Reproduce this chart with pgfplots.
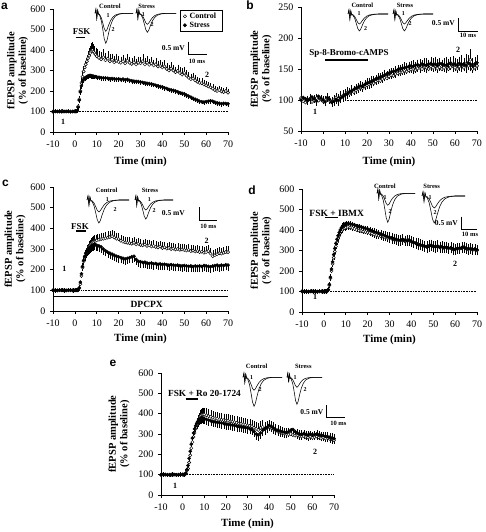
\documentclass[border=0pt]{standalone}
\usepackage{pgfplots}
\pgfplotsset{compat=1.18}
\usepackage{pgfplotstable}
\usepackage{fontspec}
\setmainfont{Liberation Serif}
\newfontfamily\panelfont{Liberation Sans}

% ---------------- data ----------------
\pgfplotstableread{
t y e
-10 100 4
-9 101 3
-8 99 3
-7 100 4
-6 102 3
-5 100 3
-4 99 3
-3 101 4
-2 100 3
-1 100 3
0 101 3
0.5 100 4
1 104 5
1.5 125 8
2 160 12
2.5 200 15
3 240 18
3.5 270 20
4 295 20
4.5 315 22
5 330 25
5.5 345 25
6 360 28
6.5 372 30
7 385 30
7.5 395 32
8 400 32
8.5 392 30
9 385 30
9.5 378 28
10 370 30
11 362 28
12 355 30
13 365 32
14 350 28
15 358 30
16 345 28
17 352 25
18 340 25
19 348 28
20 342 25
21 338 24
22 345 26
23 335 22
24 348 25
25 338 24
26 332 22
27 340 25
28 330 22
29 338 24
30 335 25
31 345 28
32 330 24
33 338 26
34 328 24
35 335 25
36 325 22
37 330 25
38 320 22
39 322 24
40 315 22
41 320 24
42 308 22
43 300 22
44 310 24
45 300 22
46 292 20
47 298 25
48 288 22
49 280 24
50 288 25
51 275 22
52 265 20
53 258 20
54 262 22
55 252 20
56 245 18
57 240 18
58 238 18
59 232 16
60 228 16
61 222 16
62 218 15
63 212 15
64 205 15
65 200 14
66 205 15
67 198 14
68 195 14
69 200 15
70 192 14
}\ac
\pgfplotstableread{
t y e
-10 99 2
-9 100 2
-8 101 2
-7 100 2
-6 99 2
-5 100 2
-4 101 2
-3 100 2
-2 99 2
-1 100 2
0 100 2
0.5 100 3
1 103 4
1.5 120 6
2 155 8
2.5 195 8
3 225 8
3.5 245 8
4 255 8
4.5 262 8
5 266 8
5.5 270 8
6 273 8
6.5 275 8
7 276 8
7.5 274 8
8 273 8
8.5 272 8
9 270 8
9.5 270 8
10 268 8
11 267 8
12 265 8
13 264 8
14 263 8
15 262 8
16 260 8
17 261 8
18 260 8
19 258 8
20 259 8
21 256 8
22 258 8
23 255 8
24 257 8
25 252 8
26 250 8
27 248 8
28 247 8
29 246 8
30 244 8
31 242 8
32 240 8
33 238 8
34 236 8
35 234 8
36 231 8
37 228 8
38 226 8
39 222 8
40 220 8
41 215 8
42 212 8
43 208 8
44 206 8
45 203 8
46 200 8
47 196 8
48 192 8
49 189 8
50 186 8
51 180 8
52 175 8
53 170 8
54 165 8
55 160 8
56 155 8
57 150 8
58 148 8
59 146 8
60 148 8
61 150 8
62 152 8
63 150 8
64 146 8
65 142 8
66 140 8
67 138 8
68 140 8
69 139 8
70 138 8
}\as
\pgfplotstableread{
t y e
-10 103 6
-9 98 5
-8 96 6
-7 100 5
-6 102 6
-5 97 5
-4 100 6
-3 103 5
-2 99 6
-1 101 5
0 98 6
1 100 5
2 103 6
3 99 5
4 97 6
5 100 6
6 104 6
7 102 6
8 105 7
9 107 7
10 108 7
11 112 7
12 110 8
13 114 8
14 113 8
15 116 8
16 118 8
17 120 8
18 119 8
19 122 8
20 124 9
21 125 9
22 128 9
23 127 9
24 130 9
25 132 9
26 131 10
27 134 10
28 136 10
29 135 10
30 138 10
31 140 10
32 139 11
33 142 11
34 143 11
35 144 11
36 145 11
37 147 12
38 146 12
39 148 12
40 149 12
41 150 12
42 148 12
43 151 12
44 152 12
45 150 12
46 153 13
47 152 13
48 150 13
49 154 13
50 152 13
51 155 13
52 151 13
53 153 13
54 150 13
55 152 13
56 154 14
57 150 14
58 153 14
59 155 14
60 152 14
61 150 14
62 154 14
63 156 14
64 152 14
65 158 15
66 155 15
67 165 15
68 150 15
69 152 15
70 155 15
}\bc
\pgfplotstableread{
t y e
-10 100 5
-9 104 5
-8 102 5
-7 99 5
-6 101 5
-5 105 5
-4 102 5
-3 98 5
-2 106 5
-1 103 5
0 100 5
1 97 5
2 104 5
3 101 5
4 96 5
5 98 5
6 101 5
7 99 6
8 103 6
9 105 6
10 108 6
11 110 6
12 113 6
13 115 6
14 117 7
15 119 7
16 121 7
17 123 7
18 122 7
19 125 7
20 127 7
21 128 8
22 130 8
23 132 8
24 134 8
25 135 8
26 137 8
27 138 8
28 140 8
29 142 8
30 143 8
31 145 9
32 146 9
33 147 9
34 149 9
35 150 9
36 151 9
37 152 9
38 153 9
39 154 9
40 155 9
41 154 10
42 156 10
43 157 10
44 155 10
45 158 10
46 157 10
47 156 10
48 158 10
49 159 10
50 157 10
51 158 10
52 156 10
53 159 10
54 158 10
55 157 10
56 156 10
57 158 10
58 160 10
59 157 10
60 158 10
61 156 10
62 159 10
63 157 10
64 158 10
65 156 10
66 160 10
67 158 10
68 155 10
69 158 10
70 160 10
}\bs
\pgfplotstableread{
t y e
-10 100 4
-9 101 4
-8 99 4
-7 100 4
-6 101 4
-5 100 4
-4 99 4
-3 100 4
-2 101 4
-1 100 4
0 100 4
0.5 101 4
1 100 5
1.5 102 5
2 110 8
2.5 130 10
3 170 14
3.5 210 16
4 240 18
4.5 262 18
5 280 20
5.5 292 20
6 300 20
6.5 310 22
7 318 22
7.5 325 22
8 330 24
8.5 335 24
9 338 24
9.5 340 24
10 342 24
11 345 24
12 348 24
13 350 24
14 352 24
15 355 24
16 358 24
17 362 24
18 356 24
19 350 24
20 348 24
21 340 22
22 335 22
23 332 22
24 330 22
25 328 22
26 326 22
27 330 22
28 322 22
29 325 22
30 320 22
31 318 22
32 322 22
33 315 22
34 318 22
35 312 22
36 315 22
37 310 22
38 308 22
39 312 22
40 305 22
41 308 22
42 302 22
43 305 22
44 300 22
45 302 22
46 298 22
47 300 22
48 296 22
49 298 22
50 295 22
51 293 22
52 296 22
53 290 22
54 292 22
55 288 22
56 290 22
57 285 22
58 287 22
59 282 22
60 285 22
61 290 22
62 278 22
63 265 22
64 270 22
65 275 22
66 280 22
67 278 22
68 282 22
69 285 22
70 285 22
}\cc
\pgfplotstableread{
t y e
-10 100 4
-9 99 4
-8 100 4
-7 101 4
-6 100 4
-5 99 4
-4 100 4
-3 101 4
-2 100 4
-1 99 4
0 100 4
0.5 100 4
1 101 5
1.5 102 5
2 112 8
2.5 140 10
3 180 14
3.5 215 16
4 245 18
4.5 265 18
5 280 20
5.5 290 20
6 298 20
6.5 305 22
7 310 22
7.5 314 22
8 318 22
8.5 320 22
9 322 22
9.5 320 22
10 318 22
11 315 22
12 310 22
13 300 22
14 292 22
15 285 22
16 280 22
17 275 22
18 270 22
19 265 22
20 262 22
21 258 22
22 255 22
23 252 22
24 255 22
25 258 22
26 262 22
27 265 22
28 250 22
29 240 22
30 238 22
31 235 22
32 236 22
33 232 22
34 230 22
35 232 22
36 228 22
37 230 22
38 226 22
39 228 22
40 225 22
41 226 22
42 224 22
43 222 22
44 224 22
45 222 22
46 220 22
47 222 22
48 220 22
49 218 22
50 220 22
51 218 22
52 216 22
53 218 22
54 215 22
55 218 22
56 216 22
57 218 22
58 215 22
59 220 22
60 218 22
61 216 22
62 214 22
63 218 22
64 220 22
65 222 22
66 218 22
67 222 22
68 220 22
69 224 22
70 222 22
}\cs
\pgfplotstableread{
t y e
-10 100 4
-9 101 4
-8 100 4
-7 99 4
-6 100 4
-5 101 4
-4 100 4
-3 99 4
-2 100 4
-1 101 4
0 100 4
0.5 100 4
1 101 5
1.5 102 6
2 108 8
2.5 130 10
3 165 14
3.5 200 16
4 235 18
4.5 265 20
5 295 20
5.5 320 22
6 340 22
6.5 358 24
7 372 24
7.5 385 24
8 395 25
8.5 402 25
9 408 25
9.5 410 25
10 412 25
11 415 25
12 412 25
13 410 25
14 405 25
15 400 25
16 398 25
17 395 25
18 392 24
19 390 24
20 388 24
21 385 24
22 382 24
23 378 24
24 375 24
25 372 24
26 370 22
27 368 22
28 365 22
29 362 22
30 360 22
31 358 22
32 355 22
33 352 22
34 350 22
35 348 22
36 352 22
37 345 22
38 350 22
39 348 22
40 342 22
41 338 22
42 335 22
43 332 22
44 328 22
45 325 22
46 320 22
47 318 22
48 322 22
49 325 22
50 320 22
51 318 22
52 322 22
53 315 22
54 318 22
55 312 22
56 315 22
57 310 22
58 312 22
59 308 22
60 305 22
61 310 22
62 308 22
63 312 22
64 315 22
65 310 22
66 305 22
67 308 22
68 302 22
69 305 22
70 300 22
}\dc
\pgfplotstableread{
t y e
-10 101 4
-9 100 4
-8 99 4
-7 100 4
-6 101 4
-5 100 4
-4 99 4
-3 100 4
-2 101 4
-1 100 4
0 100 4
0.5 101 4
1 100 5
1.5 103 6
2 110 8
2.5 135 10
3 170 14
3.5 210 16
4 245 18
4.5 280 20
5 310 20
5.5 335 22
6 355 22
6.5 372 24
7 388 24
7.5 400 24
8 410 25
8.5 418 25
9 424 25
9.5 428 25
10 430 25
11 432 25
12 430 25
13 428 25
14 425 25
15 420 25
16 418 25
17 415 25
18 412 24
19 408 24
20 405 24
21 400 24
22 396 24
23 392 24
24 388 24
25 385 24
26 380 22
27 376 22
28 372 22
29 368 22
30 365 22
31 362 22
32 358 22
33 355 22
34 352 22
35 350 22
36 355 22
37 350 22
38 348 22
39 352 22
40 345 22
41 340 22
42 335 22
43 330 22
44 328 22
45 325 22
46 322 22
47 318 22
48 320 22
49 325 22
50 322 22
51 318 22
52 320 22
53 316 22
54 318 22
55 314 22
56 316 22
57 312 22
58 314 22
59 308 22
60 306 22
61 310 22
62 312 22
63 314 22
64 316 22
65 312 22
66 308 22
67 310 22
68 305 22
69 308 22
70 304 22
}\ds
\pgfplotstableread{
t y e
-10 100 4
-9 101 4
-8 100 4
-7 99 4
-6 100 4
-5 101 4
-4 100 4
-3 99 4
-2 100 4
-1 101 4
0 100 4
0.5 100 4
1 101 5
1.5 105 6
2 120 8
2.5 130 10
3 160 14
3.5 195 16
4 230 18
4.5 260 20
5 285 22
5.5 305 24
6 325 24
6.5 345 26
7 360 26
7.5 372 26
8 382 28
8.5 390 28
9 395 28
9.5 396 28
10 395 28
11 392 28
12 388 28
13 385 26
14 380 26
15 378 26
16 375 26
17 372 26
18 370 26
19 368 26
20 366 26
21 365 26
22 362 26
23 360 26
24 358 26
25 355 26
26 352 26
27 350 26
28 348 26
29 345 26
30 342 26
31 340 26
32 338 26
33 330 26
34 325 26
35 320 26
36 330 26
37 335 26
38 325 26
39 330 26
40 335 26
41 330 26
42 325 26
43 318 24
44 312 24
45 310 24
46 305 24
47 302 24
48 300 24
49 298 24
50 300 24
51 295 24
52 292 24
53 295 24
54 290 24
55 288 24
56 290 24
57 285 24
58 283 24
59 286 24
60 282 24
61 285 24
62 288 24
63 284 24
64 280 24
65 282 24
66 278 24
67 280 24
68 276 24
69 274 24
70 270 24
}\ec
\pgfplotstableread{
t y e
-10 99 4
-9 100 4
-8 101 4
-7 100 4
-6 99 4
-5 100 4
-4 101 4
-3 100 4
-2 99 4
-1 100 4
0 101 4
0.5 100 4
1 102 5
1.5 108 6
2 125 8
2.5 145 10
3 180 14
3.5 215 16
4 250 18
4.5 280 20
5 305 20
5.5 325 22
6 340 22
6.5 352 22
7 362 22
7.5 370 22
8 375 22
8.5 378 22
9 380 22
9.5 378 22
10 376 22
11 372 22
12 368 22
13 365 22
14 362 22
15 360 22
16 358 22
17 356 22
18 354 22
19 352 22
20 350 22
21 348 22
22 346 22
23 344 22
24 342 22
25 340 22
26 338 22
27 336 22
28 334 22
29 332 22
30 330 22
31 326 22
32 322 22
33 312 22
34 300 22
35 295 22
36 305 22
37 318 22
38 325 22
39 332 22
40 342 22
41 338 22
42 330 22
43 322 22
44 318 22
45 315 22
46 312 22
47 310 22
48 308 22
49 312 22
50 318 22
51 322 22
52 312 22
53 305 22
54 300 22
55 298 22
56 302 22
57 298 22
58 295 22
59 300 22
60 296 22
61 298 22
62 300 22
63 296 22
64 294 22
65 292 22
66 290 22
67 288 22
68 284 22
69 280 22
70 278 22
}\es
% representative fEPSP trace shape (x in ms-like units; art = stimulus artefact, s = normalised response)
\pgfplotstableread{
x art s
0 0 0
0.7 4 0
1.4 -5 0
2.1 3 0
2.8 -1 0
3.5 0 -0.05
5 0 -0.25
6.2 0 -0.55
7.3 0 -0.85
8.5 0 -1.0
9.5 0 -0.9
10.8 0 -0.65
12.3 0 -0.4
14 0 -0.22
16 0 -0.1
19 0 -0.03
23 0 0
30 0 0
}\tracetab

\pgfplotsset{
  panel/.style={
    scale only axis, anchor=south west, clip=false,
    axis lines=left, axis line style={-, line width=0.8pt},
    tick align=outside, major tick length=3pt,
    tick style={black, line width=0.7pt},
    xmin=-10, xmax=70, xtick={-10,0,...,70},
    ymin=0, ymax=600, ytick={0,100,...,600},
    /pgf/number format/assume math mode=true,
    ticklabel style={font=\fontsize{10}{12}\selectfont},
    xticklabel style={yshift=-2pt},
    yticklabel style={xshift=-1pt},
    xlabel={Time (min)},
    xlabel style={at={(axis description cs:0.5,0)}, anchor=center, font=\fontsize{11}{13}\selectfont\bfseries},
    ylabel={fEPSP amplitude\\(\% of baseline)},
  },
  ylab/.style={ylabel style={at={(axis description cs:#1,0.5)}, anchor=center, rotate=0, align=center, font=\fontsize{10.5}{11.5}\selectfont\bfseries}},
  ctl/.style={only marks, mark=*, mark size=1.6pt, mark options={fill=white, draw=black, line width=0.45pt},
    error bars/.cd, y dir=plus, y explicit, error bar style={line width=0.3pt, black}, error mark options={black, mark size=1.2pt, line width=0.3pt}},
  str/.style={only marks, mark=*, mark size=1.6pt, mark options={fill=black, draw=black},
    error bars/.cd, y dir=minus, y explicit, error bar style={line width=0.3pt, black}, error mark options={black, mark size=1.2pt, line width=0.3pt}},
  base/.style={densely dotted, line width=0.6pt, forget plot},
  drug/.style={line width=1.3pt, forget plot},
}

\newcommand{\trace}[5]{%
  \begin{axis}[scale only axis, width=#3pt, height=50pt, xmin=0, xmax=30, ymin=-40, ymax=10,
    hide axis, anchor=north west, at={(#1pt,#2pt+10pt)}, clip=false]
    \addplot[line width=0.55pt] table[x=x, y expr=\thisrow{art}+\thisrow{s}*#4] {\tracetab};
    \addplot[line width=0.55pt] table[x=x, y expr=\thisrow{art}+\thisrow{s}*#5] {\tracetab};
  \end{axis}}

\begin{document}
\begin{tikzpicture}[x=1pt,y=1pt]
\useasboundingbox (0,0) rectangle (485,532);

% ---------------- panel a ----------------
\begin{axis}[panel, ylab=-0.2029, at={(53pt,400pt)}, width=175pt, height=123pt,
  xlabel style={yshift=-30pt},
  legend style={at={(axis description cs:0.726,0.992)}, anchor=north west, draw=black, line width=0.6pt,
    font=\fontsize{8}{9}\selectfont\bfseries, inner xsep=3pt, inner ysep=2pt, row sep=1pt, legend cell align=left,
    nodes={inner xsep=3pt, inner ysep=0.5pt}}]
  \addplot[ctl] table[x=t, y=y, y error=e] {\ac};
  \addlegendentry{Control}
  \addplot[str] table[x=t, y=y, y error=e] {\as};
  \addlegendentry{Stress}
  \addplot[base] coordinates {(1,100) (70,100)};
  \addplot[drug] coordinates {(0.5,462) (4.5,462)};
\end{axis}

% ---------------- panel b ----------------
\begin{axis}[panel, ylab=-0.2273, at={(301pt,401pt)}, width=176pt, height=124pt,
  ymin=50, ymax=250, ytick={50,100,...,250}, xlabel style={yshift=-31pt}]
  \addplot[ctl] table[x=t, y=y, y error=e] {\bc};
  \addplot[str] table[x=t, y=y, y error=e] {\bs};
  \addplot[base] coordinates {(10,100) (70,100)};
  \addplot[drug] coordinates {(1,164.5) (20.5,164.5)};
\end{axis}

% ---------------- panel c ----------------
\begin{axis}[panel, ylab=-0.2171, at={(53pt,221pt)}, width=175pt, height=124pt, xlabel style={yshift=-28pt}]
  \addplot[ctl] table[x=t, y=y, y error=e] {\cc};
  \addplot[str] table[x=t, y=y, y error=e] {\cs};
  \addplot[base] coordinates {(3,100) (70,100)};
  \addplot[drug] coordinates {(0.5,387) (5,387)};
  \addplot[drug] coordinates {(-10,69) (70,69)};
\end{axis}

% ---------------- panel d ----------------
\begin{axis}[panel, ylab=-0.2343, at={(302pt,220pt)}, width=175pt, height=123pt, xlabel style={yshift=-28pt}]
  \addplot[ctl] table[x=t, y=y, y error=e] {\dc};
  \addplot[str] table[x=t, y=y, y error=e] {\ds};
  \addplot[base] coordinates {(2,100) (70,100)};
  \addplot[drug] coordinates {(0.5,460) (6.5,460)};
\end{axis}

% ---------------- panel e ----------------
\begin{axis}[panel, ylab=-0.2428, at={(161pt,37pt)}, width=173pt, height=122pt, xlabel style={yshift=-29pt}]
  \addplot[ctl] table[x=t, y=y, y error=e] {\ec};
  \addplot[str] table[x=t, y=y, y error=e] {\es};
  \addplot[base] coordinates {(2,100) (70,100)};
  \addplot[drug] coordinates {(1.4,472) (7.2,472)};
\end{axis}

% ---------------- inset traces ----------------
\trace{95}{518.7}{38}{18}{30}
\trace{136}{518.7}{40}{11}{19}
\trace{348}{518}{40}{10}{17}
\trace{393}{518}{40}{10}{17}
\trace{87}{332}{42}{12}{23}
\trace{135}{332}{38}{10}{19}
\trace{377}{338.7}{38}{12}{29}
\trace{422}{336}{43}{12}{27}
\trace{243}{154.7}{39}{13}{29}
\trace{287}{154.7}{35}{10}{27}

% ---------------- text ----------------
\begin{scope}[every node/.style={inner sep=0pt}]
\foreach \p/\x/\y in {a/4.5/526, b/250/527, c/5.5/349, d/252/342, e/113/169}
  \node[font=\panelfont\bfseries\fontsize{12}{12}\selectfont] at (\x,\y) {\p};
\foreach \t/\x/\y in {Control/110/526, Stress/146.7/526, Control/362.3/527, Stress/405/527,
  Control/106.7/342, Stress/150/342, Control/385/346, Stress/431.7/345.3, Control/256.7/165.3, Stress/303.3/165.3}
  \node[font=\fontsize{6.5}{7}\selectfont\bfseries] at (\x,\y) {\t};
\foreach \t/\x/\y in {1/108/516, 2/113/502, 1/143.3/517, 2/152/507.3, 1/359/518, 2/365.7/503.7, 1/403.3/518.7, 2/410/508,
  1/107.3/332, 2/115/322, 1/149.3/332, 2/154/321.3, 1/385/334.7, 2/390/320.3, 1/430/334.7, 2/435/319.3,
  1/251.7/154.7, 2/260/142, 1/295/154.7, 2/305/142}
  \node[font=\fontsize{6}{6}\selectfont\bfseries] at (\x,\y) {\t};
\foreach \x/\y in {185/484.3, 455/508.7, 185/319.3, 458/309.3, 323.5/120.3}
  \node[anchor=east, font=\fontsize{7.5}{8}\selectfont\bfseries] at (\x,\y) {0.5 mV};
\foreach \x/\y in {197/471, 468/497, 208.3/306, 470/298, 338.3/108.7}
  \node[font=\fontsize{6.5}{7}\selectfont\bfseries] at (\x,\y) {10 ms};
\foreach \t/\x/\y in {1/63/410, 2/207/457, 1/315/420, 2/458/482, 1/64.3/262.7, 2/206.7/291.3, 1/315/235.3, 2/455/268, 1/175/46.3, 2/315/80.3}
  \node[font=\fontsize{8}{8}\selectfont\bfseries] at (\x,\y) {\t};
\node[font=\fontsize{9}{10}\selectfont\bfseries] at (81.7,500.3) {FSK};
\node[font=\fontsize{9}{10}\selectfont\bfseries] at (349,478.7) {Sp-8-Bromo-cAMPS};
\node[font=\fontsize{9}{10}\selectfont\bfseries] at (80,305.3) {FSK};
\node[font=\fontsize{9.5}{10}\selectfont\bfseries] at (336.7,318.7) {FSK + IBMX};
\node[font=\fontsize{9.3}{10}\selectfont\bfseries] at (204.5,138.7) {FSK + Ro 20-1724};
\node[font=\fontsize{9.5}{10}\selectfont\bfseries] at (146.7,228) {DPCPX};
\end{scope}
\draw[line width=0.8pt] (188.3,490.3) -- (188.3,477.7) -- (207.3,477.7);
\draw[line width=0.8pt] (458.3,513.7) -- (458.3,500.3) -- (478.3,500.3);
\draw[line width=0.8pt] (199,324.7) -- (199,312) -- (216.7,312);
\draw[line width=0.8pt] (461.7,315.3) -- (461.7,302.7) -- (476.7,302.7);
\draw[line width=0.8pt] (326.7,127) -- (326.7,115) -- (345,115);
\end{tikzpicture}
\end{document}
